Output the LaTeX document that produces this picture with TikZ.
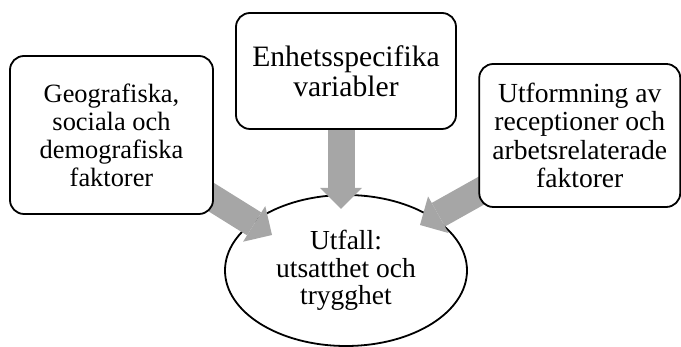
\documentclass[tikz,border=0pt]{standalone}
\usepackage{fontspec}
\setmainfont{Liberation Serif}
\usetikzlibrary{shapes.geometric,arrows.meta}
\definecolor{flowgray}{RGB}{166,166,166}
\pgfdeclarelayer{bg}
\pgfdeclarelayer{mid}
\pgfsetlayers{bg,mid,main}

\begin{document}
\begin{tikzpicture}[x=1pt,y=1pt,
  box/.style={draw, rectangle, rounded corners=14pt, line width=1.8pt, fill=white, align=center, inner sep=0pt},
  flow/.style={draw=flowgray, line width=27pt, -{Triangle[width=42pt,length=21pt,line width=0pt]}}]
\useasboundingbox (0,0) rectangle (681,347);
\begin{pgfonlayer}{bg}
\node[draw, ellipse, line width=1.8pt, fill=white, align=center, inner sep=0pt, minimum width=242pt, minimum height=151pt, font=\fontsize{27.5}{27.5}\selectfont] (4) at (346,76.5) {Utfall:\\utsatthet och\\trygghet};
\end{pgfonlayer}
\node[box, minimum width=203pt, minimum height=158pt, font=\fontsize{26.4}{28}\selectfont] (1) at (111.5,212) {Geografiska,\\sociala och\\demografiska\\faktorer};
\node[box, minimum width=220pt, minimum height=116pt, font=\fontsize{29.6}{30}\selectfont] (2) at (346,276) {Enhetsspecifika\\variabler};
\node[box, minimum width=201pt, minimum height=143pt, font=\fontsize{27.6}{28.3}\selectfont] (3) at (579.75,211.5) {Utformning av\\receptioner och\\arbetsrelaterade\\faktorer};
\coordinate (t1) at (272,112);
\coordinate (t2) at (341,138);
\coordinate (t3) at (420,122);
\begin{pgfonlayer}{mid}
\path[flow] (1.center) -- (t1);
\path[flow] (2.center -| t2) -- (t2);
\path[flow] (3.center) -- (t3);
\end{pgfonlayer}
\end{tikzpicture}
\end{document}
